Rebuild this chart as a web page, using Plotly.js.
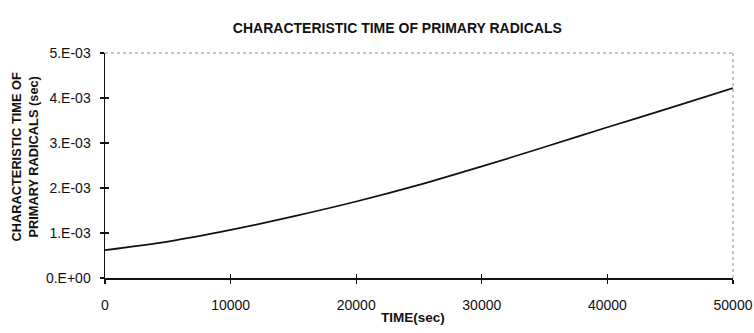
<!DOCTYPE html>
<html>
<head>
<meta charset="utf-8">
<script src="https://cdn.plot.ly/plotly-3.0.1.min.js"></script>
<style>html,body{margin:0;padding:0;background:#fff;}#chart{width:754px;height:333px;}</style>
</head>
<body>
<div id="chart"></div>
<script>
// Data
const timeSec = [0, 5000, 10000, 15000, 20000, 25000, 30000, 35000, 40000, 45000, 50000];
const charTime = [0.00062, 0.00081, 0.00107, 0.00137, 0.00170, 0.00207, 0.00248, 0.00291, 0.00335, 0.00378, 0.00422];
const yTickVals = [0, 0.001, 0.002, 0.003, 0.004, 0.005];
const yTickText = ["0.E+00", "1.E-03", "2.E-03", "3.E-03", "4.E-03", "5.E-03"];
const xTickVals = [0, 10000, 20000, 30000, 40000, 50000];
const xTickText = ["0", "10000", "20000", "30000", "40000", "50000"];

const FONT = "Liberation Sans, Arial, sans-serif";

const traces = [{
  x: timeSec, y: charTime, type: "scatter", mode: "lines",
  line: {color: "#111", width: 1.7, shape: "spline", smoothing: 0.8},
  hoverinfo: "skip", showlegend: false
}];

const axCommon = {
  showgrid: false, zeroline: false, showline: true, linecolor: "#111", linewidth: 1.5,
  ticks: "outside", ticklen: 4, tickwidth: 1.2, tickcolor: "#111",
  tickfont: {family: FONT, size: 14, color: "#111"}
};

const layout = {
  width: 754, height: 333,
  margin: {l: 105, r: 21, t: 53, b: 55},
  paper_bgcolor: "#fff", plot_bgcolor: "#fff",
  font: {family: FONT, color: "#111"},
  title: {text: "<b>CHARACTERISTIC TIME OF PRIMARY RADICALS</b>", font: {family: FONT, size: 14, color: "#111"},
          x: 0.527, xanchor: "center", y: 0.915, yanchor: "middle"},
  xaxis: Object.assign({}, axCommon, {
    range: [0, 50000], tickvals: xTickVals, ticktext: xTickText, ticklabelstandoff: 10
  }),
  yaxis: Object.assign({}, axCommon, {
    range: [0, 0.005], tickvals: yTickVals, ticktext: yTickText, ticklabelstandoff: 6
  }),
  xaxis2: {overlaying: "x", range: [0, 50000], tickvals: xTickVals, showticklabels: false, ticks: "inside", ticklen: 4, tickwidth: 1.2, tickcolor: "#111", showgrid: false, zeroline: false, showline: false, anchor: "y"},
  yaxis2: {overlaying: "y", range: [0, 0.005], tickvals: yTickVals, showticklabels: false, ticks: "inside", ticklen: 4, tickwidth: 1.2, tickcolor: "#111", showgrid: false, zeroline: false, showline: false, anchor: "x"},
  annotations: [
    {text: "<b>TIME(sec)</b>", xref: "paper", yref: "paper", x: 0.49, y: -0.176, xanchor: "center", yanchor: "middle",
     showarrow: false, font: {family: FONT, size: 13.5, color: "#111"}},
    {text: "<b>CHARACTERISTIC TIME OF<br>PRIMARY RADICALS (sec)</b>", xref: "paper", yref: "paper", x: -0.127, y: 0.537,
     xanchor: "center", yanchor: "middle", textangle: -90, showarrow: false, font: {family: FONT, size: 12.8, color: "#111"}}
  ],
  shapes: [
    {type: "line", xref: "paper", yref: "paper", x0: 0, x1: 1, y0: 1, y1: 1, line: {color: "#888", width: 1, dash: "dot"}},
    {type: "line", xref: "paper", yref: "paper", x0: 1, x1: 1, y0: 0, y1: 1, line: {color: "#888", width: 1, dash: "dot"}}
  ]
};

// invisible trace to activate overlay axes (for crossing tick marks)
traces.push({x: [0], y: [0], xaxis: "x2", yaxis: "y2", mode: "markers", marker: {opacity: 0}, hoverinfo: "skip", showlegend: false});

Plotly.newPlot("chart", traces, layout, {staticPlot: true, displayModeBar: false});
</script>
</body>
</html>
